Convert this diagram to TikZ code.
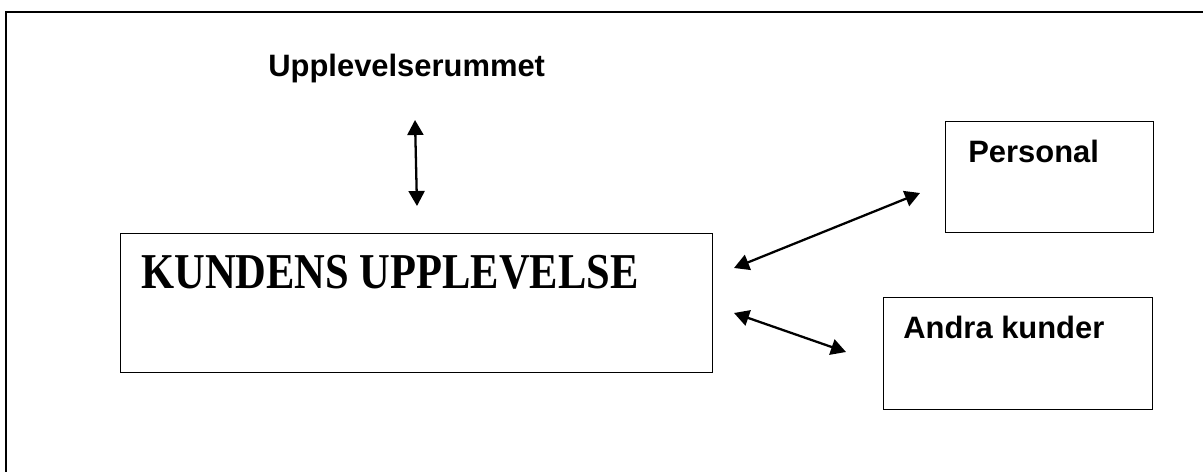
\documentclass[tikz,border=0pt]{standalone}
\usepackage{fontspec}
\setmainfont{Liberation Serif}
\setsansfont{Liberation Sans}
\usetikzlibrary{arrows.meta}

\tikzset{
  box/.style={draw,line width=0.8pt,rectangle,inner sep=0pt,anchor=north west},
  dbl/.style={{Triangle[length=3mm,width=3.2mm]}-{Triangle[length=3mm,width=3.2mm]},line width=1.3pt},
  lbl/.style={font=\sffamily\bfseries\fontsize{17.6}{20}\selectfont,anchor=base west,inner sep=0pt}
}

\begin{document}
\begin{tikzpicture}[x=0.02cm,y=-0.02cm]
      \clip (0,0) rectangle (1203,472);
      \draw[line width=1.2pt] (6,12) rectangle (1240,520);
      \path (120,233) node[box,minimum width=11.84cm,minimum height=2.78cm] (kund) {}
      (945,121) node[box,minimum width=4.16cm,minimum height=2.22cm] (pers) {}
      (883,297) node[box,minimum width=5.38cm,minimum height=2.24cm] (andra) {};
      \path (141,289) node[anchor=base west,inner sep=0pt,font=\bfseries\fontsize{24.2}{28}\selectfont] (kundtxt) {\scalebox{1}[1.18]{KUNDENS UPPLEVELSE}}
      (268,77) node[lbl] (rum) {Upplevelserummet}
      (968,163) node[lbl] (perstxt) {Personal}
      (903,339) node[lbl] (andratxt) {Andra kunder};
      \coordinate (r1) at (415,120);
      \coordinate (r2) at (417,206);
      \coordinate (p1) at (734,268);
      \coordinate (p2) at (920,193);
      \coordinate (a1) at (734,313);
      \coordinate (a2) at (846,352);
      \draw[dbl] (r1) -- (r2);
      \draw[dbl] (p1) -- (p2);
      \draw[dbl] (a1) -- (a2);
\end{tikzpicture}
\end{document}
